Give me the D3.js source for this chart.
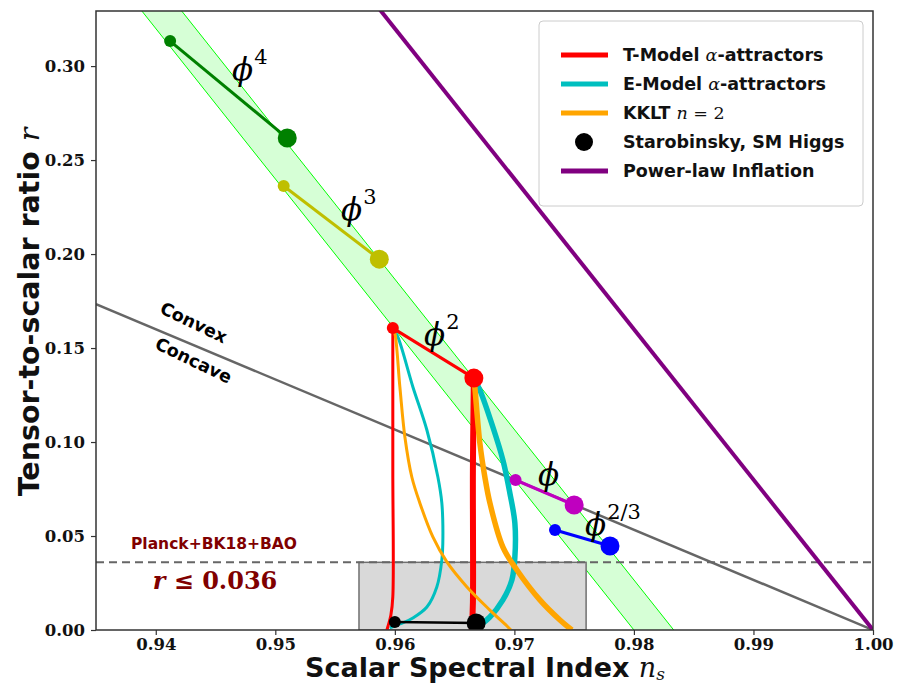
<!DOCTYPE html>
<html>
<head>
<meta charset="utf-8">
<script src="https://cdn.jsdelivr.net/npm/d3@7"></script>
<style>
  body { margin: 0; background: #fff; }
  svg { display: block; }
  .tick text { font-family: "DejaVu Serif", serif; font-size: 16.5px; font-weight: bold; }
  .lab { font-family: "DejaVu Sans", sans-serif; font-weight: bold; }
</style>
</head>
<body>
<svg id="chart" width="897" height="686"></svg>
<script>
// ---- data ----

// x ticks / y ticks
let xTicks = [0.94, 0.95, 0.96, 0.97, 0.98, 0.99, 1.00];
let yTicks = [0.00, 0.05, 0.10, 0.15, 0.20, 0.25, 0.30];

// monomial phi^p : [N=50 point, N=60 point]
let phi4 = [[0.9412, 0.3133], [0.9510, 0.2617]];
let phi3 = [[0.9507, 0.2362], [0.9587, 0.1973]];
let phi2 = [[0.95983, 0.1606], [0.96661, 0.1340]];
let phi1 = [[0.9701, 0.0798], [0.9750, 0.0665]];
let phi23 = [[0.9734, 0.0532], [0.9780, 0.0447]];
let staro = [[0.9600, 0.0043], [0.9668, 0.0037]];

// green N=50..60 band edges
let bandLeft = [[0.93625, 0.35], [0.98, 0]];
let bandRight = [[0.93958, 0.35], [0.98333, 0]];

// power-law inflation and convex/concave divide
let powerLaw = [[0.95625, 0.35], [1.0, 0]];
let convexLine = [[0.935, 0.1733], [1.0, 0]];

// T-model alpha-attractors
let tModel50 = [[0.95983, 0.1606], [0.95983, 0.0851], [0.95983, 0.0176], [0.95967, 0.0080], [0.95941, 0.0016], [0.95933, 0]];
let tModel60 = [[0.96661, 0.1340], [0.96653, 0.0851], [0.96653, 0.0144], [0.96644, 0]];

// E-model alpha-attractors
let eModel50 = [[0.95983, 0.1606], [0.96025, 0.1559], [0.96151, 0.1293], [0.96268, 0.1064], [0.96360, 0.0814],
  [0.96393, 0.0676], [0.96402, 0.0495], [0.96393, 0.0372], [0.96351, 0.0229], [0.96268, 0.0122],
  [0.96151, 0.0064], [0.96042, 0.0032], [0.95958, 0.0011]];
let eModel60 = [[0.96661, 0.1340], [0.96711, 0.1277], [0.96820, 0.1080], [0.96904, 0.0904], [0.96962, 0.0729],
  [0.97004, 0.0569], [0.97004, 0.0388], [0.96979, 0.0266], [0.96904, 0.0160], [0.96795, 0.0069],
  [0.96686, 0.0016], [0.96628, 0.0005]];

// KKLT n=2
let kklt50 = [[0.95983, 0.1606], [0.96000, 0.1580], [0.96042, 0.1293], [0.96084, 0.1027], [0.96142, 0.0814],
  [0.96209, 0.0676], [0.96318, 0.0495], [0.96435, 0.0362], [0.96603, 0.0229], [0.96795, 0.0106],
  [0.96946, 0.0016], [0.96971, 0]];
let kklt60 = [[0.96661, 0.1340], [0.96669, 0.1293], [0.96711, 0.0995], [0.96753, 0.0814], [0.96795, 0.0676],
  [0.96904, 0.0441], [0.97021, 0.0319], [0.97213, 0.0160], [0.97381, 0.0053], [0.97481, 0]];

// observational bound
let rBound = 0.036;
let boundBox = [0.957, 0.976];

let legendLabels = ["T-Model α-attractors", "E-Model α-attractors", "KKLT n = 2", "Starobinsky, SM Higgs", "Power-law Inflation"];

// ---- layout ----
let plotLeft = 96, plotRight = 873, plotTop = 11, plotBottom = 630;

let svg = d3.select("#chart");

let x = d3.scaleLinear().domain([0.935, 1.0]).range([plotLeft, plotRight]);
let y = d3.scaleLinear().domain([0, 0.3293]).range([plotBottom, plotTop]);

let line = d3.line().x(d => x(d[0])).y(d => y(d[1]));
let curve = d3.line().x(d => x(d[0])).y(d => y(d[1])).curve(d3.curveCatmullRom);

svg.append("defs").append("clipPath")
    .attr("id", "plot-clip")
  .append("rect")
    .attr("x", plotLeft).attr("y", plotTop)
    .attr("width", plotRight - plotLeft).attr("height", plotBottom - plotTop);

let plot = svg.append("g").attr("clip-path", "url(#plot-clip)");

// green band
plot.append("path")
    .attr("d", line(bandLeft.concat(bandRight.slice().reverse())) + "Z")
    .attr("fill", "#00ff00").attr("fill-opacity", 0.16).attr("stroke", "none");
[bandLeft, bandRight].forEach(b => {
  plot.append("path").attr("d", line(b))
      .attr("fill", "none").attr("stroke", "#00ff00").attr("stroke-width", 1);
});

// Planck box
plot.append("rect")
    .attr("x", x(boundBox[0])).attr("y", y(rBound))
    .attr("width", x(boundBox[1]) - x(boundBox[0]))
    .attr("height", y(0) - y(rBound))
    .attr("fill", "#d9d9d9").attr("stroke", "#707070").attr("stroke-width", 1.5);

// dashed bound line
plot.append("line")
    .attr("x1", plotLeft).attr("x2", plotRight)
    .attr("y1", y(rBound)).attr("y2", y(rBound))
    .attr("stroke", "#666").attr("stroke-width", 2).attr("stroke-dasharray", "8,5");

// convex / concave divide
plot.append("path").attr("d", line(convexLine))
    .attr("fill", "none").attr("stroke", "#666").attr("stroke-width", 2.5);

// power-law
plot.append("path").attr("d", line(powerLaw))
    .attr("fill", "none").attr("stroke", "#800080").attr("stroke-width", 4);

// model curves
let curves = [
  [tModel50, "#ff0000", 3], [tModel60, "#ff0000", 6],
  [eModel50, "#00bfbf", 3], [eModel60, "#00bfbf", 5.5],
  [kklt50, "#ffa500", 3], [kklt60, "#ffa500", 5.5]
];
curves.forEach(([d, c, w]) => {
  plot.append("path").attr("d", curve(d))
      .attr("fill", "none").attr("stroke", c).attr("stroke-width", w)
      .attr("stroke-linecap", "butt");
});

// monomial pairs
let pairs = [
  [phi4, "#008000", 3], [phi3, "#bfbf00", 3], [phi2, "#ff0000", 3],
  [phi1, "#bf00bf", 3], [phi23, "#0000ff", 3], [staro, "#000000", 2.5]
];
pairs.forEach(([d, c, w]) => {
  plot.append("path").attr("d", line(d))
      .attr("fill", "none").attr("stroke", c).attr("stroke-width", w);
  plot.append("circle").attr("cx", x(d[0][0])).attr("cy", y(d[0][1])).attr("r", 6).attr("fill", c);
  plot.append("circle").attr("cx", x(d[1][0])).attr("cy", y(d[1][1])).attr("r", 9.5).attr("fill", c);
});

// phi labels
let phiLabels = [
  {t: "ϕ", s: "4", px: 232, py: 80},
  {t: "ϕ", s: "3", px: 341, py: 220},
  {t: "ϕ", s: "2", px: 424, py: 345},
  {t: "ϕ", s: "", px: 538, py: 485},
  {t: "ϕ", s: "2/3", px: 585, py: 535}
];
phiLabels.forEach(p => {
  let t = svg.append("text")
      .attr("x", p.px).attr("y", p.py)
      .style("font-family", "'DejaVu Serif', serif")
      .style("font-style", "italic")
      .style("font-size", "31px")
      .text(p.t);
  if (p.s) {
    t.append("tspan")
        .attr("dy", -16).attr("dx", 1)
        .style("font-style", "normal")
        .style("font-size", "21px")
        .text(p.s);
  }
});

// Convex / Concave
let ang = Math.atan2(y(convexLine[1][1]) - y(convexLine[0][1]), x(convexLine[1][0]) - x(convexLine[0][0])) * 180 / Math.PI + 3;
svg.append("text").attr("class", "lab")
    .attr("transform", `translate(191,328) rotate(${ang})`)
    .attr("text-anchor", "middle").style("font-size", "17.5px").text("Convex");
svg.append("text").attr("class", "lab")
    .attr("transform", `translate(191,366) rotate(${ang})`)
    .attr("text-anchor", "middle").style("font-size", "17.5px").text("Concave");

// Planck label
svg.append("text").attr("class", "lab")
    .attr("x", 214).attr("y", 549).attr("text-anchor", "middle")
    .style("font-size", "15.5px").attr("fill", "#800000")
    .text("Planck+BK18+BAO");
let rb = svg.append("text")
    .attr("x", 215).attr("y", 589).attr("text-anchor", "middle")
    .style("font-family", "'DejaVu Serif', serif").style("font-size", "24px")
    .style("font-weight", "bold").attr("fill", "#800000");
rb.append("tspan").style("font-style", "italic").text("r");
rb.append("tspan").text(" ≤ 0.036");

// axes
svg.append("g")
    .attr("transform", `translate(0,${plotBottom})`)
    .call(d3.axisBottom(x).tickValues(xTicks).tickFormat(d3.format(".2f")).tickSize(5).tickPadding(3))
    .call(g => g.select(".domain").remove());
svg.append("g")
    .attr("transform", `translate(${plotLeft},0)`)
    .call(d3.axisLeft(y).tickValues(yTicks).tickFormat(d3.format(".2f")).tickSize(5).tickPadding(6))
    .call(g => g.select(".domain").remove());
svg.selectAll(".tick line").attr("stroke", "#333").attr("stroke-width", 1.2);
svg.selectAll(".tick text").attr("fill", "#111");

svg.append("rect")
    .attr("x", plotLeft).attr("y", plotTop)
    .attr("width", plotRight - plotLeft).attr("height", plotBottom - plotTop)
    .attr("fill", "none").attr("stroke", "#333").attr("stroke-width", 1.5);

// axis labels
let xl = svg.append("text").attr("class", "lab")
    .attr("x", 485).attr("y", 677).attr("text-anchor", "middle")
    .style("font-size", "27px").attr("fill", "#111");
xl.append("tspan").text("Scalar Spectral Index ");
xl.append("tspan").style("font-family", "'DejaVu Serif', serif").style("font-style", "italic").style("font-weight", "normal").text("n");
xl.append("tspan").attr("dy", 3).style("font-family", "'DejaVu Serif', serif").style("font-style", "italic").style("font-weight", "normal").style("font-size", "17px").text("s");

let yl = svg.append("text").attr("class", "lab")
    .attr("transform", "translate(39,312) rotate(-90)").attr("text-anchor", "middle")
    .style("font-size", "28.5px").attr("fill", "#111");
yl.append("tspan").text("Tensor-to-scalar ratio ");
yl.append("tspan").style("font-family", "'DejaVu Serif', serif").style("font-style", "italic").style("font-weight", "normal").text("r");

// legend
let legend = svg.append("g").attr("transform", "translate(539,21)");
legend.append("rect")
    .attr("width", 324).attr("height", 185).attr("rx", 4)
    .attr("fill", "#fff").attr("fill-opacity", 0.9)
    .attr("stroke", "#ccc").attr("stroke-width", 1);
let legendColors = ["#ff0000", "#00bfbf", "#ffa500", "#000000", "#800080"];
legendLabels.forEach((lab, i) => {
  let ly = 34 + i * 29;
  if (i === 3) {
    legend.append("circle").attr("cx", 45).attr("cy", ly).attr("r", 9).attr("fill", legendColors[i]);
  } else {
    legend.append("line").attr("x1", 22).attr("x2", 69).attr("y1", ly).attr("y2", ly)
        .attr("stroke", legendColors[i]).attr("stroke-width", 5);
  }
  let t = legend.append("text").attr("class", "lab")
      .attr("x", 84).attr("y", ly + 6).style("font-size", "17.5px").attr("fill", "#111");
  if (lab.includes("α")) {
    let parts = lab.split("α");
    t.append("tspan").text(parts[0]);
    t.append("tspan").style("font-family", "'DejaVu Serif', serif").style("font-style", "italic").style("font-weight", "normal").text("α");
    t.append("tspan").text(parts[1]);
  } else if (lab.startsWith("KKLT")) {
    t.append("tspan").text("KKLT ");
    t.append("tspan").style("font-family", "'DejaVu Serif', serif").style("font-style", "italic").style("font-weight", "normal").text("n");
    t.append("tspan").style("font-family", "'DejaVu Serif', serif").style("font-weight", "normal").text(" = 2");
  } else {
    t.text(lab);
  }
});
</script>
</body>
</html>
